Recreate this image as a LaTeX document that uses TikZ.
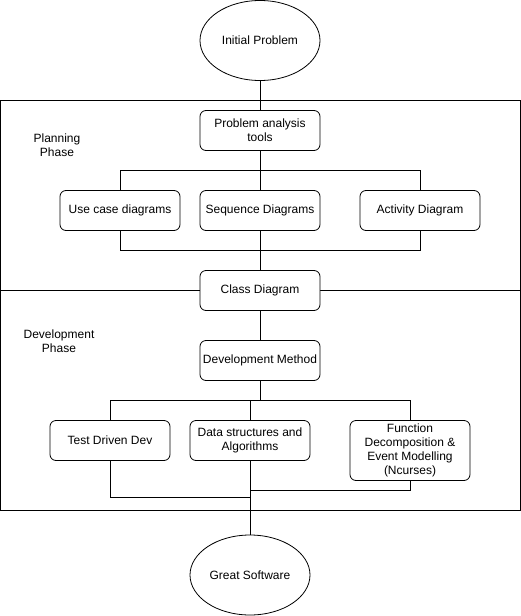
\documentclass[tikz,border=0pt]{standalone}
\usepackage{fontspec}
\setmainfont{Liberation Sans}
\usetikzlibrary{shapes.geometric}
\begin{document}
\begin{tikzpicture}[x=1pt,y=-1pt,
  every node/.style={font=\fontsize{12}{14}\selectfont, align=center},
  procbox/.style={draw, fill=white, rounded corners=6pt, minimum width=120pt, minimum height=40pt, inner sep=0pt, line width=0.8pt},
  termnode/.style={draw, ellipse, fill=white, minimum width=120pt, minimum height=80pt, inner sep=0pt, line width=0.8pt},
  phase/.style={draw, line width=0.8pt},
  conn/.style={line width=0.8pt}]
\useasboundingbox (0,0) rectangle (521,616);
% phase frames
\draw[phase] (0.5,100) rectangle (520.5,290);
\draw[phase] (0.5,290) rectangle (520.5,510);
\node (plan) at (57,145.5) {Planning\\Phase};
\node (devp) at (59,341) {Development\\Phase};
% nodes
\node[termnode] (init) at (260,40.5) {Initial Problem};
\node[procbox] (pat) at (260,130.5) {Problem analysis\\tools};
\node[procbox] (uc) at (120,210.5) {Use case diagrams};
\node[procbox] (seq) at (260,210.5) {Sequence Diagrams};
\node[procbox] (act) at (420,210.5) {Activity Diagram};
\node[procbox] (cls) at (260,290.5) {Class Diagram};
\node[procbox] (dm) at (260,360.5) {Development Method};
\node[procbox] (tdd) at (110,440.5) {Test Driven Dev};
\node[procbox] (ds) at (250,440.5) {Data structures and\\Algorithms};
\node[procbox, minimum height=60pt] (fd) at (410,450.5) {Function\\Decomposition \&\\Event Modelling\\(Ncurses)};
\node[termnode] (gs) at (250,575) {Great Software};
% junction coordinates
\coordinate (j1) at (260,170.5);
\coordinate (j2) at (260,250.5);
\coordinate (j3) at (260,400.5);
\coordinate (j4) at (250,497);
\coordinate (j5) at (250,490);
% connectors
\draw[conn] (init.south) -- (pat.north);
\draw[conn] (pat.south) -- (j1);
\draw[conn] (j1) -| (uc.north);
\draw[conn] (j1) -| (act.north);
\draw[conn] (j1) -- (seq.north);
\draw[conn] (uc.south) |- (j2);
\draw[conn] (act.south) |- (j2);
\draw[conn] (seq.south) -- (cls.north);
\draw[conn] (cls.south) -- (dm.north);
\draw[conn] (dm.south) -- (j3);
\draw[conn] (j3) -| (tdd.north);
\draw[conn] (j3) -| (fd.north);
\draw[conn] (ds.north) -- (ds.north |- j3);
\draw[conn] (tdd.south) |- (j4);
\draw[conn] (fd.south) |- (j5);
\draw[conn] (ds.south) -- (gs.north);
\end{tikzpicture}
\end{document}
